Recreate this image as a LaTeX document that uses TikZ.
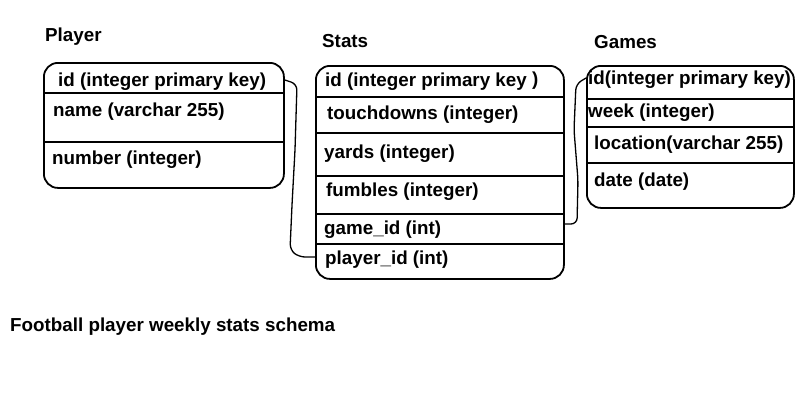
\documentclass[tikz,border=0pt]{standalone}
\usepackage{fontspec}
\setmainfont{Liberation Sans}
\usepackage{tikz}
\usetikzlibrary{calc}

\tikzset{
  tablebox/.style={draw, line width=1.8pt, rounded corners=14pt, inner sep=0pt, anchor=north west},
  field/.style={anchor=west, inner sep=0pt, font=\fontsize{18.8}{22}\selectfont\bfseries},
  sep/.style={line width=1.4pt},
  link/.style={line width=1.3pt, rounded corners=6pt},
}

\begin{document}
\begin{tikzpicture}[x=1pt, y=-1pt]
  \useasboundingbox (0,0) rectangle (800,400);

  % titles
  \node[field] (tplayer) at (45,37) {Player};
  \node[field] (tstats) at (322,41) {Stats};
  \node[field] (tgames) at (594,42) {Games};
  \node[field] (caption) at (10,327) {Football player weekly stats schema};

  % Player
  \node[tablebox, minimum width=240pt, minimum height=125pt] (player) at (43,62) {};
  \draw[sep] (player.west |- 0,93) -- (player.east |- 0,93);
  \draw[sep] (player.west |- 0,142) -- (player.east |- 0,142);
  \node[field] (pid) at (58,82) {id (integer primary key)};
  \node[field] (pname) at (53,112) {name (varchar 255)};
  \node[field] (pnum) at (52,160) {number (integer)};

  % Stats
  \node[tablebox, minimum width=248pt, minimum height=213pt] (stats) at (315,65) {};
  \foreach \y in {97,133,176,214,244}
    \draw[sep] (stats.west |- 0,\y) -- (stats.east |- 0,\y);
  \node[field] (sid) at (325,81) {id (integer primary key \raisebox{1.5pt}{)}};
  \node[field] (stouch) at (327,115) {touchdowns (integer)};
  \node[field] (syards) at (324,154) {yards (integer)};
  \node[field] (sfumb) at (326,192) {fumbles (integer)};
  \node[field] (sgame) at (324,230) {game\_id (int)};
  \node[field] (splayer) at (325,260) {player\_id (int)};

  % Games
  \node[tablebox, minimum width=207pt, minimum height=142pt] (games) at (586,65) {};
  \foreach \y in {99,127,163}
    \draw[sep] (games.west |- 0,\y) -- (games.east |- 0,\y);
  \node[field] (gid) at (588,80) {id(integer primary key)};
  \node[field] (gweek) at (588,113) {week (integer)};
  \node[field] (gloc) at (594,145) {location(varchar 255)};
  \node[field] (gdate) at (594,182) {date (date)};

  % links
  \draw[link] ($(player.east |- pid)+(0,-2)$) -- (297,84) -- (295,150)
    -- (292,205) -- (290,250) -- (299,257) -- ($(stats.west |- splayer)+(0,-3)$);
  \draw[link] ($(stats.east |- sgame)+(0,-6)$) -- (577,224) -- (578,180)
    -- (574,130) -- (576,84) -- ($(games.west |- gid)+(0,-2)$);
\end{tikzpicture}
\end{document}
